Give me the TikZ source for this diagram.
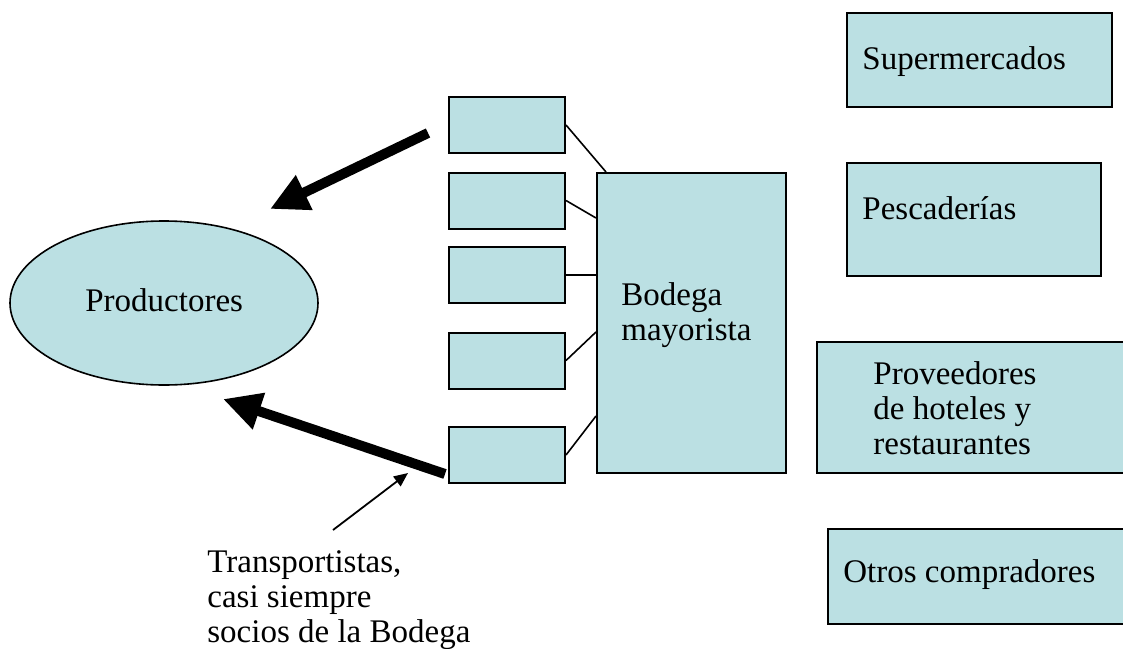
\documentclass[tikz,border=0pt]{standalone}
\usepackage{fontspec}
\setmainfont{Liberation Serif}
\usetikzlibrary{arrows.meta,shapes.geometric}
\definecolor{boxfill}{RGB}{187,224,227}
\tikzset{
  box/.style={draw=black, fill=boxfill, line width=1pt, inner sep=0pt, rectangle},
  smallbox/.style={box, minimum width=58pt, minimum height=28pt},
  lbl/.style={inner sep=0pt, anchor=base west, align=left,
              font=\fontsize{16.5}{17.5}\selectfont},
  link/.style={line width=0.8pt},
  bigarrow/.style={line width=5pt, -{Triangle[length=19pt,width=18pt]}},
  thinarrow/.style={line width=0.9pt, -{Triangle[length=7pt,width=6pt]}}
}
\begin{document}
\begin{tikzpicture}[x=0.5pt,y=-0.5pt]
\useasboundingbox (0,0) rectangle (1123,648);

% producers
\node[ellipse, draw=black, fill=boxfill, line width=0.8pt, inner sep=0pt,
      minimum width=154pt, minimum height=82pt] (prod) at (164,303) {};
\node[lbl] (prodtxt) at (85,311) {Productores};

% transport boxes and the wholesale market
\node[smallbox] (t1) at (507,125) {};
\node[smallbox] (t2) at (507,200.5) {};
\node[smallbox] (t3) at (507,275) {};
\node[smallbox] (t4) at (507,360.5) {};
\node[smallbox] (t5) at (507,455) {};
\node[box, minimum width=94.5pt, minimum height=150pt] (bod) at (691.5,323) {};
% multi-line labels are placed by the baseline of their last line
\node[lbl] (bodtxt) at (621,340) {Bodega\\mayorista};

\draw[link] (t1.east) -- ([xshift=5pt]bod.north west);
\draw[link] (t2.east) -- ([yshift=-23pt]bod.north west);
\draw[link] (t3.east) -- (t3.east -| bod.west);
\draw[link] (t4.east) -- ([yshift=-80pt]bod.north west);
\draw[link] (t5.east) -- ([yshift=-122pt]bod.north west);

% buyers
\node[box, minimum width=132.5pt, minimum height=47pt] (super) at (979.5,60) {};
\node[lbl] (supertxt) at (862,69) {Supermercados};
\node[box, minimum width=127pt, minimum height=56.5pt] (pesc) at (974,219.5) {};
\node[lbl] (pesctxt) at (862,219) {Pescaderías};
\node[box, minimum width=154.5pt, minimum height=65.5pt] (prov) at (971.5,407.5) {};
\node[lbl] (provtxt) at (873,454) {Proveedores\\de hoteles y\\restaurantes};
\node[box, minimum width=149pt, minimum height=47.5pt] (otros) at (977,576.5) {};
\node[lbl] (otrostxt) at (843,582) {Otros compradores};

% flows towards the producers
\coordinate (a1s) at (428,133);
\coordinate (a1e) at (270,209);
\coordinate (a2s) at (445,474);
\coordinate (a2e) at (223,399);
\draw[bigarrow] (a1s) -- (a1e);
\draw[bigarrow] (a2s) -- (a2e);

% note on the carriers
\node[lbl] (note) at (207,642)
  {Transportistas,\\casi siempre\\socios de la Bodega};
\coordinate (n1s) at (333,530);
\coordinate (n1e) at (408,473);
\draw[thinarrow] (n1s) -- (n1e);
\end{tikzpicture}
\end{document}
